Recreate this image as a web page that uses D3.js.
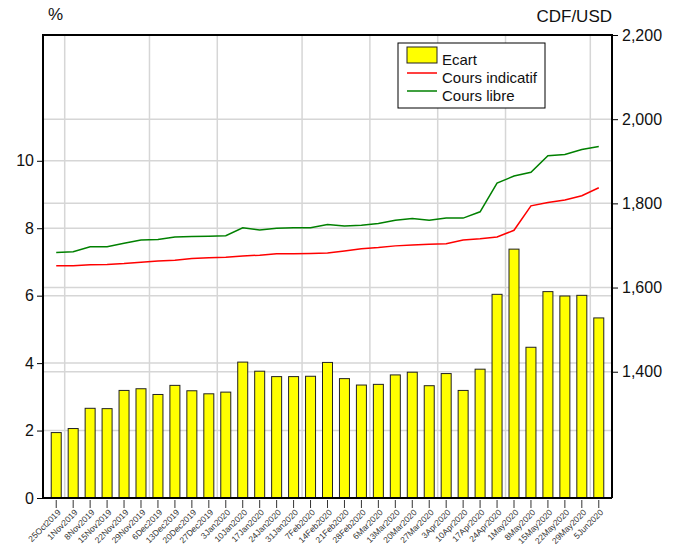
<!DOCTYPE html>
<html lang="en">
<head>
<meta charset="utf-8">
<title>Ecart CDF/USD</title>
<script type="text/javascript" src="https://d3js.org/d3.v7.min.js"></script>
<style>
body { margin: 0; background: #fff; }
svg text { font-family: "Liberation Sans", Arial, sans-serif; fill: #111; }
.grid line { stroke: #d6d6d6; stroke-width: 1.5; }
.bar { fill: #ffff00; stroke: #222; stroke-width: 1; }
.xlab { font-size: 8.5px; fill: #333; }
.tick text { font-size: 16px; }
</style>
</head>
<body>
<div id="chart"></div>
<script type="text/javascript">

// weekly dates
var dates = ["25Oct2019","1Nov2019","8Nov2019","15Nov2019","22Nov2019","29Nov2019",
  "6Dec2019","13Dec2019","20Dec2019","27Dec2019","3Jan2020","10Jan2020","17Jan2020",
  "24Jan2020","31Jan2020","7Feb2020","14Feb2020","21Feb2020","28Feb2020","6Mar2020",
  "13Mar2020","20Mar2020","27Mar2020","3Apr2020","10Apr2020","17Apr2020","24Apr2020",
  "1May2020","8May2020","15May2020","22May2020","29May2020","5Jun2020"];

// Ecart (%), left axis
var ecart = [1.94, 2.06, 2.66, 2.65, 3.19, 3.24, 3.07, 3.34, 3.18, 3.09, 3.14,
  4.03, 3.76, 3.60, 3.60, 3.61, 4.02, 3.54, 3.35, 3.37, 3.65, 3.73,
  3.33, 3.69, 3.19, 3.82, 6.04, 7.38, 4.47, 6.12, 5.99, 6.01, 5.34];

// Cours indicatif (CDF/USD), right axis
var indicatif = [1652, 1652, 1654, 1655, 1657, 1660, 1663, 1665, 1669, 1671, 1672,
  1675, 1677, 1680, 1680, 1681, 1682, 1687, 1692, 1695, 1699, 1701,
  1703, 1704, 1713, 1716, 1720, 1736, 1794, 1802, 1808, 1818, 1837];

// Cours libre (CDF/USD), right axis
var libre = [1683, 1685, 1697, 1697, 1705, 1713, 1714, 1720, 1721, 1722, 1723,
  1742, 1737, 1741, 1742, 1742, 1750, 1746, 1748, 1752, 1760, 1764,
  1760, 1765, 1765, 1780, 1848, 1865, 1874, 1913, 1916, 1928, 1935];

var leftTicks = [0, 2, 4, 6, 8, 10];
var rightTicks = [1400, 1600, 1800, 2000, 2200];

var W = 678, H = 549;
var L = 43, R = 612, T = 35, B = 498;

var svg = d3.select("#chart").append("svg")
    .attr("width", W)
    .attr("height", H);

var x = d3.scalePoint()
    .domain(dates)
    .range([L, R])
    .padding(0.78);

var yL = d3.scaleLinear()
    .domain([0, 13.73])
    .range([B, T]);

var yR = d3.scaleLinear()
    .domain([1100, 2200])
    .range([B, T]);

// month boundaries for vertical grid
var monthOf = function(s) { return s.replace(/^\d+/, "").slice(0, 3); };
var vgrid = [];
for (var i = 1; i < dates.length; i++) {
    if (monthOf(dates[i]) != monthOf(dates[i-1]))
        vgrid.push((x(dates[i]) + x(dates[i-1])) / 2);
}

var grid = svg.append("g").attr("class", "grid");
grid.selectAll(".v")
    .data(vgrid)
    .enter().append("line")
        .attr("x1", d => d).attr("x2", d => d)
        .attr("y1", T).attr("y2", B);
grid.selectAll(".hl")
    .data(leftTicks.filter(d => d > 0))
    .enter().append("line")
        .attr("x1", L).attr("x2", R)
        .attr("y1", d => yL(d)).attr("y2", d => yL(d));
grid.selectAll(".hr")
    .data(rightTicks.filter(d => d < 2200))
    .enter().append("line")
        .attr("x1", L).attr("x2", R)
        .attr("y1", d => yR(d)).attr("y2", d => yR(d));

// bars
var bw = 10;
svg.selectAll(".bar")
    .data(ecart)
    .enter().append("rect")
        .attr("class", "bar")
        .attr("x", (d, i) => x(dates[i]) - bw / 2)
        .attr("y", d => yL(d))
        .attr("width", bw)
        .attr("height", d => yL(0) - yL(d));

// lines
var line = d3.line()
    .x((d, i) => x(dates[i]))
    .y(d => yR(d));

svg.append("path")
    .datum(indicatif)
    .attr("d", line)
    .attr("fill", "none")
    .attr("stroke", "#ff0000")
    .attr("stroke-width", 1.5);

svg.append("path")
    .datum(libre)
    .attr("d", line)
    .attr("fill", "none")
    .attr("stroke", "#008000")
    .attr("stroke-width", 1.5);

// frame
svg.append("path")
    .attr("d", "M" + L + "," + B + "V" + T + "H" + R + "V" + B)
    .attr("fill", "none")
    .attr("stroke", "#000")
    .attr("stroke-width", 2);

// axes
svg.append("g")
    .attr("transform", "translate(" + L + ",0)")
    .call(d3.axisLeft(yL).tickValues(leftTicks).tickSize(6).tickPadding(3))
    .call(g => g.select(".domain").remove());

svg.append("g")
    .attr("transform", "translate(" + R + ",0)")
    .call(d3.axisRight(yR).tickValues(rightTicks).tickSize(6).tickPadding(4).tickFormat(d3.format(",")))
    .call(g => g.select(".domain").remove());

var xg = svg.append("g");
xg.append("line")
    .attr("x1", L).attr("x2", R)
    .attr("y1", B).attr("y2", B)
    .attr("stroke", "#000")
    .attr("stroke-width", 2);
xg.selectAll(".xt")
    .data(dates)
    .enter().append("line")
        .attr("x1", d => x(d)).attr("x2", d => x(d))
        .attr("y1", B + 2).attr("y2", B + 10)
        .attr("stroke", "#333")
        .attr("stroke-width", 1);
xg.selectAll(".xlab")
    .data(dates)
    .enter().append("text")
        .attr("class", "xlab")
        .attr("text-anchor", "end")
        .attr("transform", d => "translate(" + (x(d) + 5) + "," + (B + 15) + ") rotate(-45)")
        .text(d => d);

// axis titles
svg.append("text")
    .attr("x", 48).attr("y", 20)
    .style("font-size", "17px")
    .text("%");

svg.append("text")
    .attr("x", R).attr("y", 22)
    .attr("text-anchor", "end")
    .style("font-size", "17px")
    .text("CDF/USD");

// legend
var lg = svg.append("g").attr("transform", "translate(398,43)");
lg.append("rect")
    .attr("width", 147).attr("height", 65)
    .attr("fill", "#fff").attr("stroke", "#000").attr("stroke-width", 1);
lg.append("rect")
    .attr("x", 9).attr("y", 4).attr("width", 30).attr("height", 16)
    .attr("fill", "#ffff00").attr("stroke", "#222");
lg.append("line")
    .attr("x1", 9).attr("x2", 39).attr("y1", 30).attr("y2", 30)
    .attr("stroke", "#ff0000").attr("stroke-width", 1.5);
lg.append("line")
    .attr("x1", 9).attr("x2", 39).attr("y1", 48).attr("y2", 48)
    .attr("stroke", "#008000").attr("stroke-width", 1.5);
var legendLabels = ["Ecart", "Cours indicatif", "Cours libre"];
lg.selectAll(".lt")
    .data(legendLabels)
    .enter().append("text")
        .attr("x", 44)
        .attr("y", (d, i) => 22 + i * 18)
        .style("font-size", "15px")
        .text(d => d);

</script>
</body>
</html>
